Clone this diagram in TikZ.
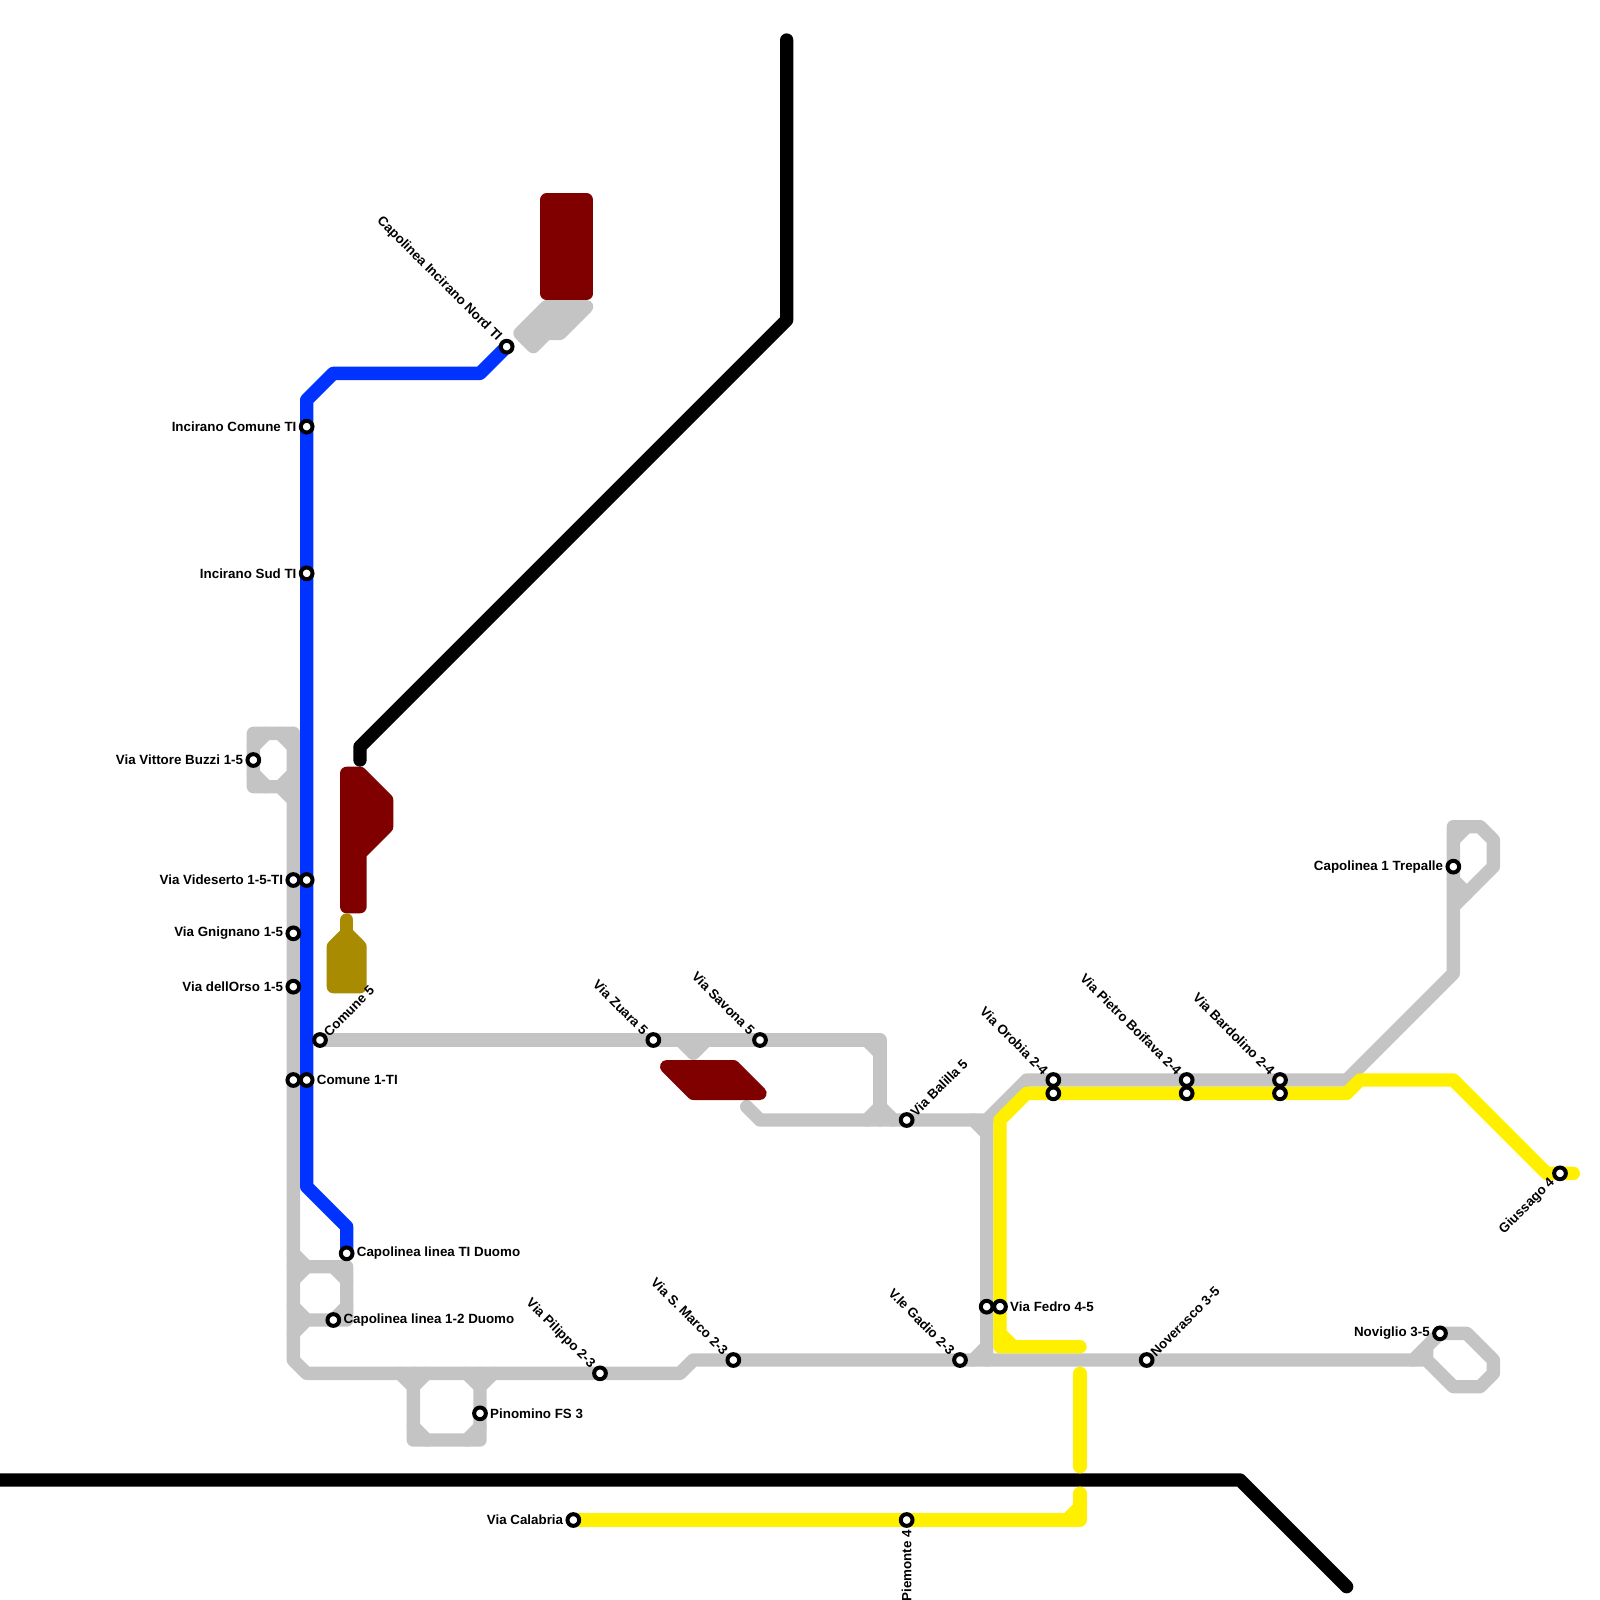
\documentclass[tikz,border=0pt]{standalone}
\usepackage{fontspec}
\setmainfont{Liberation Sans}
\usetikzlibrary{backgrounds}
\definecolor{linegray}{HTML}{C4C4C4}
\definecolor{lineblue}{HTML}{0033FF}
\definecolor{lineyellow}{HTML}{FFF000}
\definecolor{blockred}{HTML}{800000}
\definecolor{blockolive}{HTML}{A88B00}

\begin{document}
\begin{tikzpicture}[
  x=0.4cm, y=-0.4cm,
  every node/.style={font=\fontsize{11.4}{13}\selectfont\bfseries, inner sep=0pt},
  metro/.style={line width=0.4cm, line cap=round, line join=round},
  grayline/.style={metro, draw=linegray},
  blueline/.style={metro, draw=lineblue},
  yellowline/.style={metro, draw=lineyellow},
  blackline/.style={metro, draw=black},
  redblock/.style={metro, draw=blockred, fill=blockred},
  oliveblock/.style={metro, draw=blockolive, fill=blockolive},
  graypatch/.style={metro, draw=linegray, fill=linegray},
  stn/.style={circle, draw=black, fill=white, line width=0.12cm, minimum size=0.351cm},
  tagleft/.style={anchor=east},
  tagright/.style={anchor=west},
  tagupleft/.style={anchor=east, rotate=-45},
  tagupright/.style={anchor=west, rotate=45}
]
  \useasboundingbox (0,0) rectangle (120,120);

  \node[stn] (nord)      at (38, 26) {};
  \node[stn] (comuneti)  at (23, 32) {};
  \node[stn] (sudti)     at (23, 43) {};
  \node[stn] (buzzi)     at (19, 57) {};
  \node[stn] (videg)     at (22, 66) {};
  \node[stn] (videb)     at (23, 66) {};
  \node[stn] (gnignano)  at (22, 70) {};
  \node[stn] (orso)      at (22, 74) {};
  \node[stn] (comune)    at (24, 78) {};
  \node[stn] (comuneg)   at (22, 81) {};
  \node[stn] (comuneb)   at (23, 81) {};
  \node[stn] (duomoti)   at (26, 94) {};
  \node[stn] (duomo)     at (25, 99) {};
  \node[stn] (pinomino)  at (36,106) {};
  \node[stn] (pilippo)   at (45,103) {};
  \node[stn] (smarco)    at (55,102) {};
  \node[stn] (gadio)     at (72,102) {};
  \node[stn] (fedrog)    at (74, 98) {};
  \node[stn] (fedroy)    at (75, 98) {};
  \node[stn] (noverasco) at (86,102) {};
  \node[stn] (noviglio)  at (108,100) {};
  \node[stn] (calabria)  at (43,114) {};
  \node[stn] (piemonte)  at (68,114) {};
  \node[stn] (zuara)     at (49, 78) {};
  \node[stn] (savona)    at (57, 78) {};
  \node[stn] (balilla)   at (68, 84) {};
  \node[stn] (orobiag)   at (79, 81) {};
  \node[stn] (orobiay)   at (79, 82) {};
  \node[stn] (boifavag)  at (89, 81) {};
  \node[stn] (boifavay)  at (89, 82) {};
  \node[stn] (bardog)    at (96, 81) {};
  \node[stn] (bardoy)    at (96, 82) {};
  \node[stn] (trepalle)  at (109,65) {};
  \node[stn] (giussago)  at (117,88) {};

  \node[tagupleft]  (nordtag)      at (37.45,25.45) {Capolinea Incirano Nord TI};
  \node[tagleft]    (comunetitag)  at (22.25,32)    {Incirano Comune TI};
  \node[tagleft]    (sudtitag)     at (22.25,43)    {Incirano Sud TI};
  \node[tagleft]    (buzzitag)     at (18.25,57)    {Via Vittore Buzzi 1-5};
  \node[tagleft]    (videtag)      at (21.25,66)    {Via Videserto 1-5-TI};
  \node[tagleft]    (gnignanotag)  at (21.25,70)    {Via Gnignano 1-5};
  \node[tagleft]    (orsotag)      at (21.25,74)    {Via dellOrso 1-5};
  \node[tagupright] (comunetag)    at (24.45,77.55) {Comune 5};
  \node[tagright]   (comunebtag)   at (23.75,81)    {Comune 1-TI};
  \node[tagright]   (duomotitag)   at (26.75,94)    {Capolinea linea TI Duomo};
  \node[tagright]   (duomotag)     at (25.75,99)    {Capolinea linea 1-2 Duomo};
  \node[tagright]   (pinominotag)  at (36.75,106)   {Pinomino FS 3};
  \node[tagupleft]  (pilippotag)   at (44.45,102.45) {Via Pilippo 2-3};
  \node[tagupleft]  (smarcotag)    at (54.45,101.45) {Via S. Marco 2-3};
  \node[tagupleft]  (gadiotag)     at (71.45,101.45) {V.le Gadio 2-3};
  \node[tagright]   (fedrotag)     at (75.75,98)    {Via Fedro 4-5};
  \node[tagupright] (noverascotag) at (86.45,101.55) {Noverasco 3-5};
  \node[tagleft]    (nogliotag)    at (107.25,100)  {Noviglio 3-5};
  \node[tagleft]    (calabriatag)  at (42.25,114)   {Via Calabria};
  \node[anchor=east, rotate=90] (piemontetag) at (68,114.75) {Piemonte 4};
  \node[tagupleft]  (zuaratag)     at (48.45,77.45) {Via Zuara 5};
  \node[tagupleft]  (savonatag)    at (56.45,77.45) {Via Savona 5};
  \node[tagupright] (balillatag)   at (68.45,83.55) {Via Balilla 5};
  \node[tagupleft]  (orobiatag)    at (78.45,80.45) {Via Orobia 2-4};
  \node[tagupleft]  (boifavatag)   at (88.45,80.45) {Via Pietro Boifava 2-4};
  \node[tagupleft]  (bardotag)     at (95.45,80.45) {Via Bardolino 2-4};
  \node[tagleft]    (trepalletag)  at (108.25,65)   {Capolinea 1 Trepalle};
  \node[anchor=east, rotate=45] (giussagotag) at (116.45,88.55) {Giussago 4};

  \begin{scope}[on background layer]
    \filldraw[graypatch] (41,23) -- (44,23) -- (42,25) -- (41,25) -- (40,26) -- (39,25) -- cycle;

    \draw[grayline] (22,55) -- (videg.center) -- (gnignano.center) -- (orso.center) -- (comuneg.center) -- (22,102) -- (23,103) -- (pilippo.center) -- (51,103) -- (52,102) -- (smarco.center) -- (gadio.center) -- (noverasco.center) -- (107,102);
    \draw[grayline] (22,55) -- (19,55) -- (buzzi.center) -- (19,59) -- (21,59) -- (22,60);
    \draw[grayline] (19,56) -- (20,55) (21,55) -- (22,56) (22,58) -- (21,59) (20,59) -- (19,58);
    \draw[grayline] (22,94) -- (23,95) -- (26,95) -- (26,99) -- (duomo.center) -- (23,99) -- (22,100);
    \draw[grayline] (22,95) -- (23,95) (22,99) -- (23,99);
    \draw[grayline] (22,96) -- (23,95) (25,95) -- (26,96) (26,98) -- (25,99) (23,99) -- (22,98);
    \draw[grayline] (30,103) -- (31,104) -- (31,108) -- (36,108) -- (pinomino.center) -- (36,104) -- (37,103);
    \draw[grayline] (31,103) -- (31,104) (36,103) -- (36,104);
    \draw[grayline] (31,104) -- (32,103) (35,103) -- (36,104) (36,107) -- (35,108) (32,108) -- (31,107);
    \draw[grayline] (comune.center) -- (zuara.center) -- (savona.center) -- (66,78) -- (66,84);
    \draw[grayline] (65,78) -- (66,79) (65,84) -- (66,83) -- (67,84);
    \draw[grayline] (51,78) -- (52,79) -- (53,78);
    \draw[grayline] (56,83) -- (57,84) -- (balilla.center) -- (74,84) -- (fedrog.center) -- (74,102);
    \draw[grayline] (73,84) -- (74,85) (73,102) -- (74,101);
    \draw[grayline] (74,84) -- (77,81) -- (orobiag.center) -- (boifavag.center) -- (bardog.center) -- (101,81) -- (109,73) -- (trepalle.center) -- (109,62) -- (111,62) -- (112,63) -- (112,65) -- (109,68);
    \draw[grayline] (109,63) -- (110,62) (109,66) -- (110,67);
    \draw[grayline] (106,102) -- (noviglio.center) -- (110,100) -- (112,102) -- (112,103) -- (111,104) -- (109,104) -- (107,102) -- (107,101);

    \filldraw[redblock] (41,15) -- (44,15) -- (44,22) -- (41,22) -- cycle;
    \filldraw[redblock] (26,58) -- (27,58) -- (29,60) -- (29,62) -- (27,64) -- (27,68) -- (26,68) -- cycle;
    \filldraw[redblock] (50,80) -- (55,80) -- (57,82) -- (52,82) -- cycle;
    \filldraw[oliveblock] (26,70) -- (27,71) -- (27,74) -- (25,74) -- (25,71) -- cycle;
    \draw[metro, draw=blockolive] (26,69) -- (26,70);

    \draw[blackline] (59,3) -- (59,24) -- (27,56) -- (27,57);
    \draw[blackline] (0,111) -- (93,111) -- (101,119);

    \draw[blueline] (nord.center) -- (36,28) -- (25,28) -- (23,30) -- (comuneti.center) -- (sudti.center) -- (videb.center) -- (comuneb.center) -- (23,89) -- (26,92) -- (duomoti.center);

    \draw[yellowline] (calabria.center) -- (piemonte.center) -- (81,114) -- (81,112);
    \draw[yellowline] (80,114) -- (81,113);
    \draw[yellowline] (81,103) -- (81,110);
    \draw[yellowline] (81,101) -- (75,101) -- (fedroy.center) -- (75,84) -- (77,82) -- (orobiay.center) -- (boifavay.center) -- (bardoy.center) -- (101,82) -- (102,81) -- (109,81) -- (116,88) -- (118,88);
    \draw[yellowline] (75,100) -- (76,101);
  \end{scope}
\end{tikzpicture}
\end{document}
